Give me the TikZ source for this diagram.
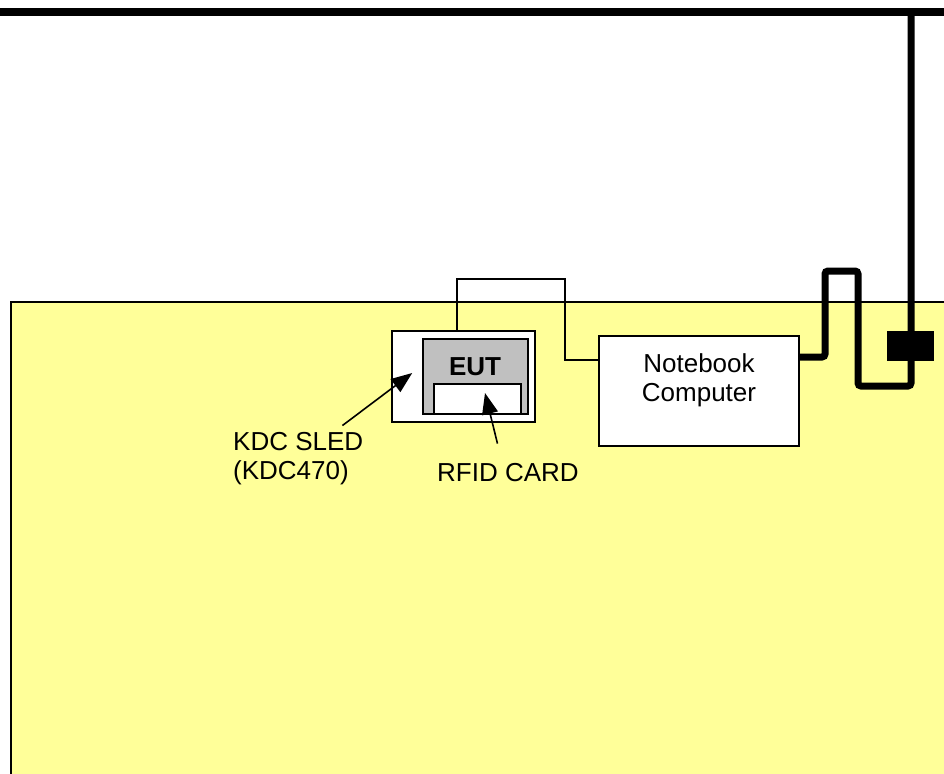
\documentclass[tikz,border=0pt]{standalone}
\usepackage{fontspec}
\setmainfont{Liberation Sans}
\usetikzlibrary{positioning,arrows.meta}
\definecolor{RoomYellow}{HTML}{FFFF99}
\definecolor{EutGray}{HTML}{C0C0C0}

\begin{document}
\begin{tikzpicture}[
    x=1pt,y=-1pt,
    box/.style={
      draw,
      fill=white,
      line width=1.6pt,
      inner sep=0pt
    },
    labeltext/.style={inner sep=0pt,font=\fontsize{26}{29}\selectfont},
    wire/.style={line width=7.5pt},
    thickcable/.style={line width=7pt,rounded corners=3pt},
    thincable/.style={line width=1.6pt},
    pointer/.style={-{Triangle[length=21pt,width=16pt]},line width=1.6pt}
  ]
  \useasboundingbox (0,0) rectangle (944,773);
  \clip (0,0) rectangle (944,773);

  % test room area
  \fill[RoomYellow] (11,302) rectangle (960,790);
  \draw[line width=1.5pt] (11,790) -- (11,302) -- (960,302);
  \draw[line width=2.5pt] (11,790) -- (11,302);

  % equipment
  \node[box,minimum width=143pt,minimum height=91pt] (sled) at (463.5,376.5) {};
  \node[box,fill=EutGray,minimum width=105pt,minimum height=75pt] (eut) at (475.5,376.5) {};
  \node[labeltext,font=\fontsize{26}{29}\selectfont\bfseries] (euttext) at (475,367) {EUT};
  \node[box,line width=1.4pt,minimum width=87pt,minimum height=30pt] (card) at (477.5,399) {};
  \node[box,line width=1.4pt,minimum width=200pt,minimum height=110pt] (nb) at (699,391) {};
  \node[labeltext,align=center] (nbtext) at ([yshift=11pt]nb.center) {Notebook\\Computer};
  \node[fill=black,inner sep=0pt,minimum width=47pt,minimum height=30pt] (plug) at (910.5,346) {};

  % labels
  \node[labeltext,align=left,anchor=west] (kdc) at (233,459) {KDC SLED\\(KDC470)};
  \node[labeltext,anchor=west] (rfid) at (437,473) {RFID CARD};

  % cables
  \coordinate (wl) at (0,12);
  \coordinate (wr) at (960,12);
  \coordinate (mast) at (911,12);
  \coordinate (c1) at (457,279);
  \coordinate (c2) at (565,279);
  \draw[wire] (wl) -- (wr);
  \draw[thincable] (sled.north -| c1) |- (c2) |- ([yshift=31pt]nb.west);
  \draw[thickcable] ([yshift=34pt]nb.east) -| (825,271) -| (858,386) -| (mast);
  \node[fill=black,inner sep=0pt,minimum width=47pt,minimum height=30pt] at (plug) {};

  % pointers
  \draw[pointer] ([xshift=-21pt,yshift=7pt]kdc.north east) -- ([xshift=21pt,yshift=3.5pt]sled.west);
  \draw[pointer] ([xshift=-10.5pt,yshift=20pt]rfid.north) -- ([xshift=7.5pt,yshift=6pt]card.center);
\end{tikzpicture}
\end{document}
